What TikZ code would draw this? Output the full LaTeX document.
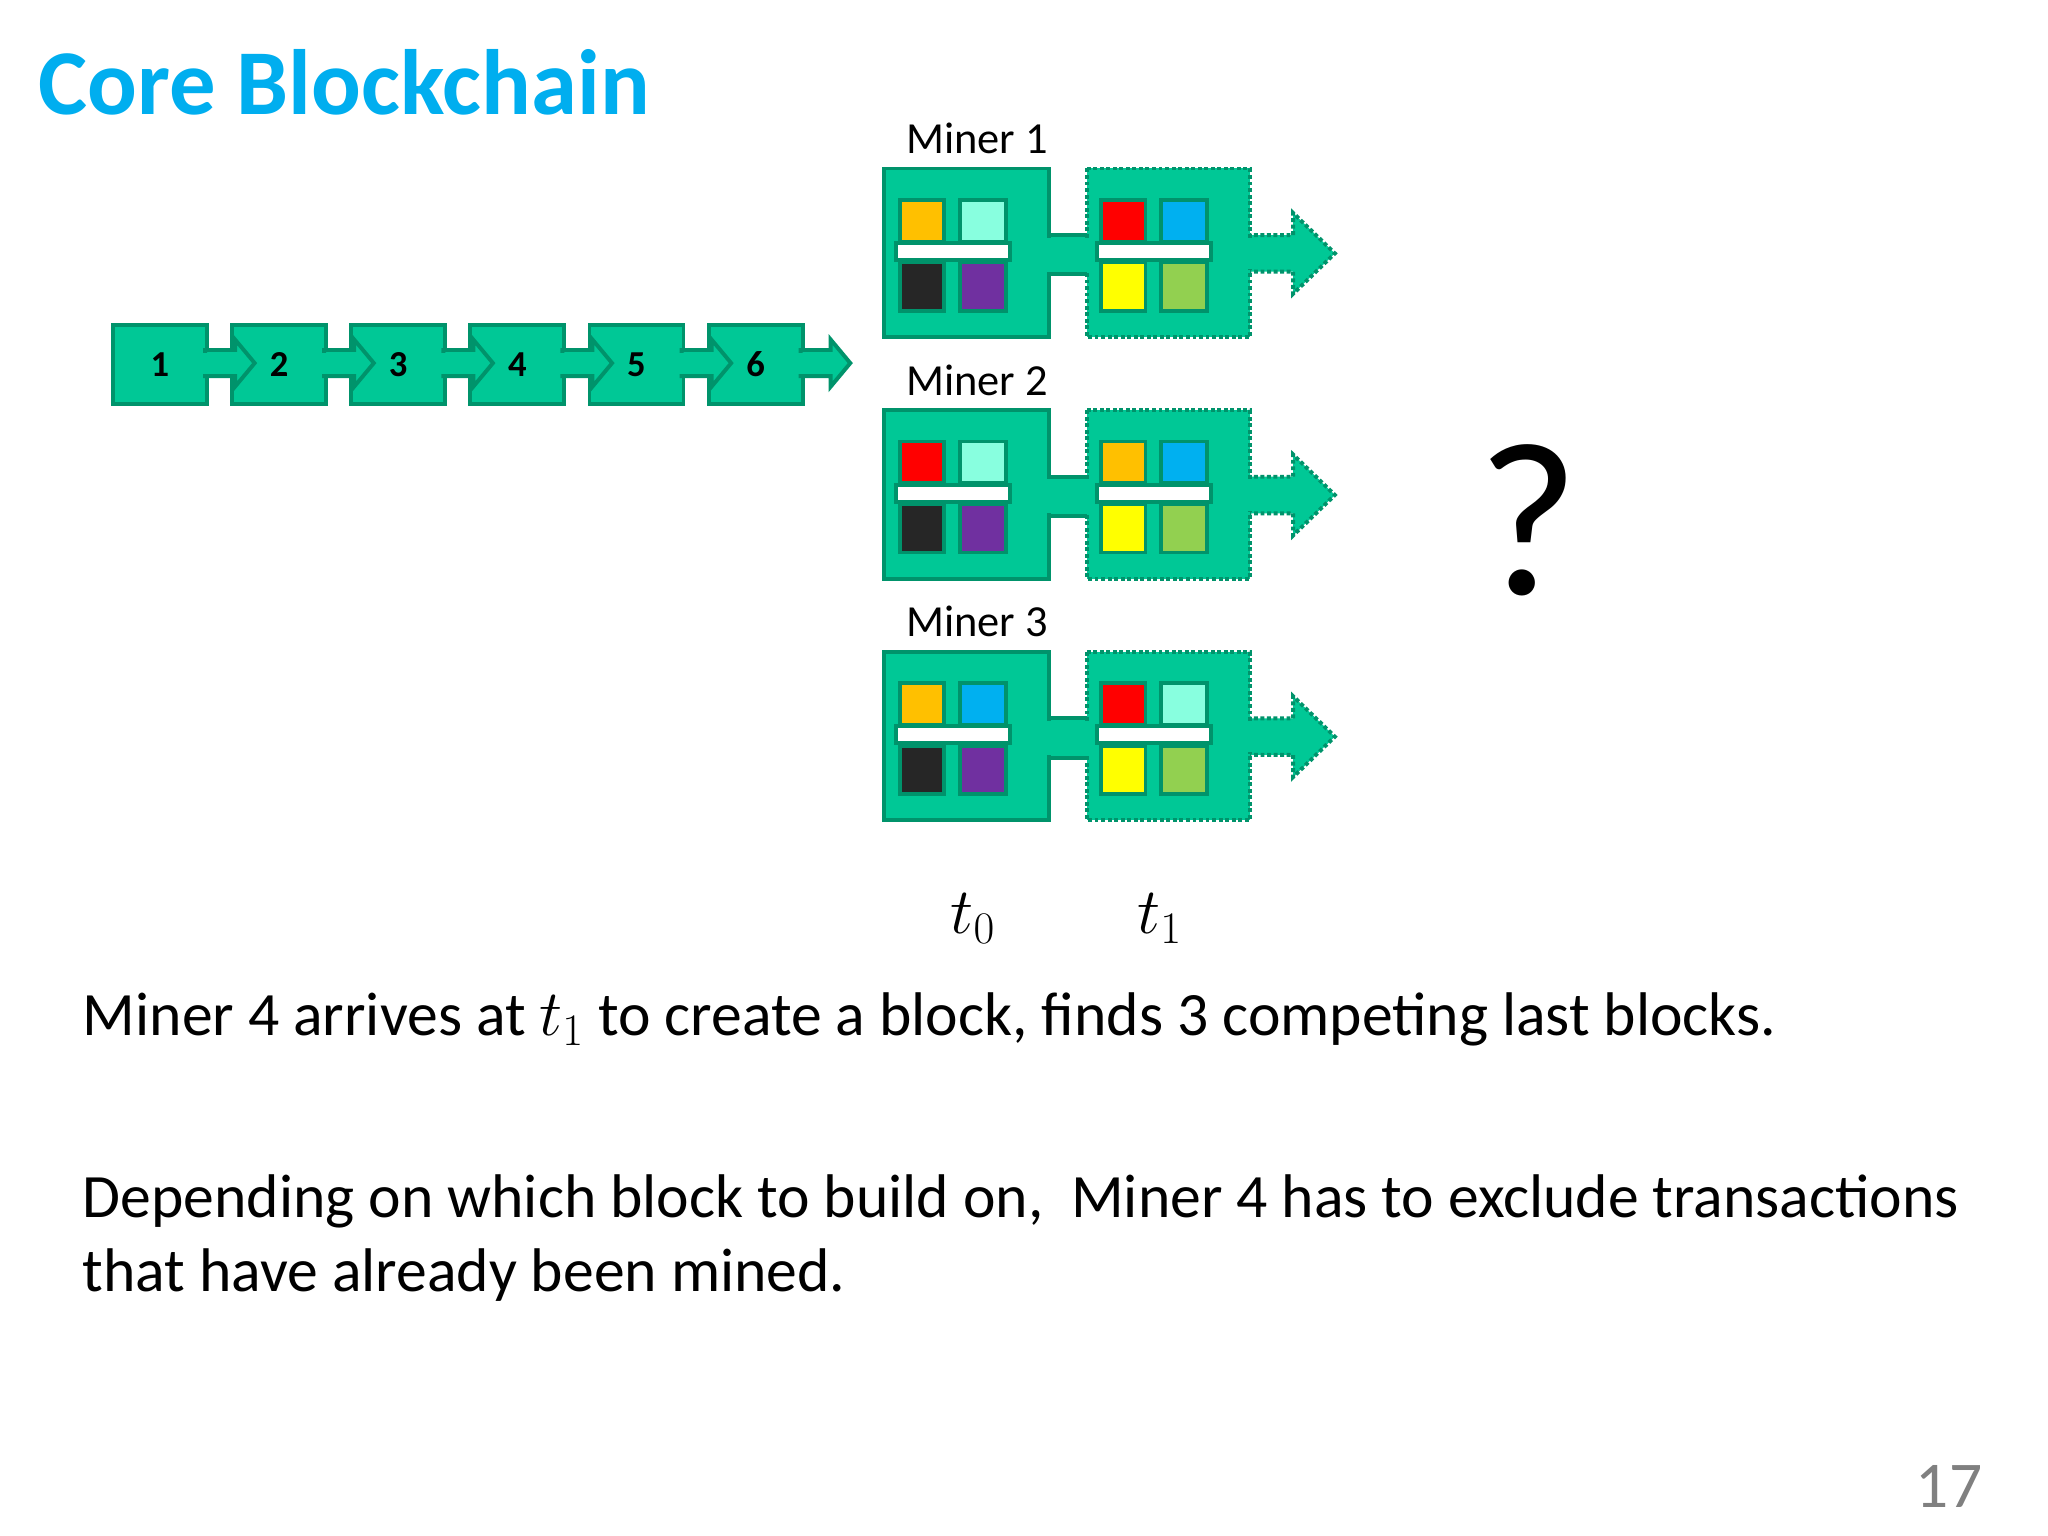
\documentclass[tikz,border=0pt]{standalone}
\usepackage{fontspec}
\setmainfont{Carlito}
\begin{document}
\begin{tikzpicture}[x=0.5pt,y=-0.5pt,
  blk/.style={fill=bg,draw=bd,line width=1.5pt},
  dblk/.style={fill=bg,draw=bd,line width=1.5pt,dash pattern=on 1.5pt off 1pt},
  sq/.style={draw=bd,line width=1.5pt},
  lab/.style={font=\fontsize{17}{20}\selectfont},
  num/.style={font=\bfseries\fontsize{14}{16}\selectfont},
  body/.style={anchor=base west,inner sep=0pt,font=\fontsize{23.6}{28}\selectfont}]
\definecolor{bg}{HTML}{00C896}
\definecolor{bd}{HTML}{00936B}
\definecolor{co}{HTML}{FFC000}
\definecolor{ca}{HTML}{88FFDF}
\definecolor{ck}{HTML}{262626}
\definecolor{cp}{HTML}{7030A0}
\definecolor{cr}{HTML}{FF0000}
\definecolor{cb}{HTML}{00B0F0}
\definecolor{cy}{HTML}{FFFF00}
\definecolor{cg}{HTML}{92D050}
\definecolor{ttl}{HTML}{00AEEF}
\useasboundingbox (0,0) rectangle (1568,1176);
\fill[white] (0,0) rectangle (1568,1176);
\node[anchor=base west,inner sep=0pt,text=ttl,font=\bfseries\fontsize{35.5}{42}\selectfont] (title) at (29,88) {Core Blockchain};
% chain
\foreach \i in {1,...,6}{
  \pgfmathsetmacro\xx{85+(\i-1)*91.2}
  \node[blk,minimum width=36pt,minimum height=30.5pt,anchor=north west,inner sep=0pt] (c\i) at (\xx,247) {};
}
\foreach \i in {1,...,6}{
  \pgfmathsetmacro\xx{85+(\i-1)*91.2}
  \fill[bg,draw=bd,line width=1.5pt] (\xx+72,268) -- (\xx+95,268) -- (\xx+95,260) -- (\xx+110,278) -- (\xx+95,296) -- (\xx+95,288) -- (\xx+72,288) -- cycle;
  \fill[bg] (\xx+70,270) rectangle (\xx+74,286);
  \node[num] at (c\i.center) {\i};
}
\newcommand{\minerrow}[9]{
  \begin{scope}[yshift=#1*(-0.5pt)]
  \fill[bg,draw=bd,line width=1.5pt] (800,180) rectangle (835,210);
  \fill[bg,draw=bd,line width=1.5pt,dash pattern=on 1.5pt off 1pt] (950,180) -- (990,180) -- (990,163) -- (1022,194) -- (990,225) -- (990,208) -- (950,208) -- cycle;
  \draw[blk] (677,129) rectangle (803,258);
  \draw[dblk] (832,129) rectangle (957,258);
  \fill[bg] (800,182) rectangle (834,208);
  \fill[bg] (950,182) rectangle (960,206);
  \foreach \dx/\a/\b/\c/\d in {0/#2/#3/#4/#5,154/#6/#7/#8/#9}{
    \begin{scope}[xshift=\dx*0.5pt]
    \draw[sq,fill=\a] (689,153) rectangle (723,185);
    \draw[sq,fill=\b] (735,153) rectangle (770,185);
    \draw[sq,fill=\c] (689,201) rectangle (723,238);
    \draw[sq,fill=\d] (735,201) rectangle (770,238);
    \draw[sq,fill=white] (686,186) rectangle (773,199);
    \end{scope}}
  \end{scope}}
\minerrow{0}{co}{ca}{ck}{cp}{cr}{cb}{cy}{cg}
\minerrow{185}{cr}{ca}{ck}{cp}{co}{cb}{cy}{cg}
\minerrow{370}{co}{cb}{ck}{cp}{cr}{ca}{cy}{cg}
\node[lab] (m1) at (748,106) {Miner 1};
\node[lab] (m2) at (748,291) {Miner 2};
\node[lab] (m3) at (748,476) {Miner 3};
\node[font=\fontsize{24}{26}\selectfont] (t0) at (745,703) {$t_0$};
\node[font=\fontsize{24}{26}\selectfont] (t1) at (888,703) {$t_1$};
\node[font=\fontsize{84}{90}\selectfont] (q) at (1170,398) {?};
\node[body] (l1) at (63,793) {Miner 4 arrives at $t_1$ to create a block, finds 3 competing last blocks.};
\node[body] (l2) at (63,932) {Depending on which block to build on,\ \ Miner 4 has to exclude transactions};
\node[body] (l3) at (63,989) {that have already been mined.};
\node[anchor=base east,inner sep=0pt,text=gray,font=\fontsize{25}{28}\selectfont] (pg) at (1518,1154) {17};
\end{tikzpicture}
\end{document}
